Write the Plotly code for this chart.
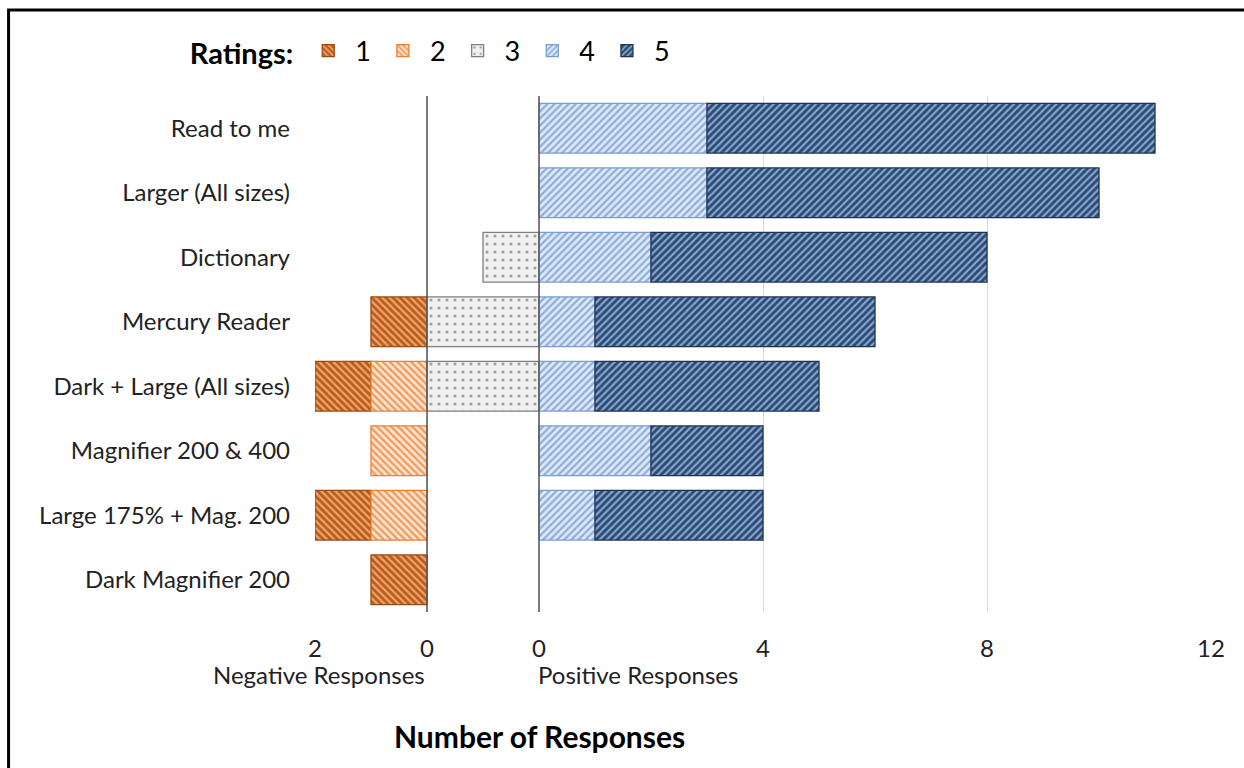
import plotly.graph_objects as go

categories = [
    "Read to me",
    "Larger (All sizes)",
    "Dictionary",
    "Mercury Reader",
    "Dark + Large (All sizes)",
    "Magnifier 200 & 400",
    "Large 175% + Mag. 200",
    "Dark Magnifier 200",
]
rating_1 = [0, 0, 0, 1, 1, 0, 1, 1]
rating_2 = [0, 0, 0, 0, 1, 1, 1, 0]
rating_3 = [0, 0, 1, 2, 2, 0, 0, 0]
rating_4 = [3, 3, 2, 1, 1, 2, 1, 0]
rating_5 = [8, 7, 6, 5, 4, 2, 3, 0]

tick_vals = [-4, -2, 0, 4, 8, 12]
tick_text = ["2", "0", "0", "4", "8", "12"]

NEG_ZERO = -2  # left edge of the neutral band; negative ratings stack from here
FONT = "Lato, Open Sans, sans-serif"


def nz(v):
    return [x if x else None for x in v]


def trace(name, widths, bases, bg, fg, shape, outline, size=5, solidity=0.45):
    return go.Bar(
        name=name,
        y=categories,
        x=nz(widths),
        base=bases,
        orientation="h",
        width=0.77,
        marker=dict(
            color=bg,
            line=dict(color=outline, width=1.3),
            pattern=dict(shape=shape, fgcolor=fg, bgcolor=bg, size=size,
                         solidity=solidity, fillmode="replace"),
        ),
    )


base_1 = [NEG_ZERO - a - b for a, b in zip(rating_1, rating_2)]
base_2 = [NEG_ZERO - b for b in rating_2]
base_3 = [-c for c in rating_3]
base_4 = [0] * len(categories)
base_5 = list(rating_4)

fig = go.Figure()
fig.add_trace(trace("1", rating_1, base_1, "#B65D1E", "#F2A468", "\\", "#9A4A12"))
fig.add_trace(trace("2", rating_2, base_2, "#FCE3D0", "#F09A58", "\\", "#ED7D31"))
fig.add_trace(trace("3", rating_3, base_3, "#F0F0F0", "#A0A0A0", ".", "#7F7F7F", size=8, solidity=0.12))
fig.add_trace(trace("4", rating_4, base_4, "#DDE9F8", "#8FADD9", "/", "#7A9CCF"))
fig.add_trace(trace("5", rating_5, base_5, "#2B4A72", "#85A5CE", "/", "#1F3350"))

# axis lines for the two zero points
for xv in (NEG_ZERO, 0):
    fig.add_shape(type="line", xref="x", yref="paper", x0=xv, x1=xv, y0=0, y1=1,
                  line=dict(color="#555555", width=1.5), layer="above")

# outer frame
fig.add_shape(type="rect", xref="paper", yref="paper",
              x0=-0.342, x1=1.2, y0=-0.5, y1=1.1665,
              line=dict(color="black", width=3), layer="above")

fig.add_annotation(text="Negative Responses", x=NEG_ZERO, y=-0.122, xref="x", yref="paper",
                   xanchor="right", showarrow=False,
                   font=dict(size=24, color="#222222"), yanchor="middle")
fig.add_annotation(text="Positive Responses", x=-0.05, y=-0.122, xref="x", yref="paper",
                   xanchor="left", showarrow=False,
                   font=dict(size=24, color="#222222"), yanchor="middle")
fig.add_annotation(text="<b>Number of Responses</b>", x=0, y=-0.24, xref="x", yref="paper",
                   showarrow=False, font=dict(size=30, color="black"), yanchor="middle")

fig.update_layout(
    width=1244,
    height=768,
    margin=dict(l=315, r=33, t=96, b=156),
    paper_bgcolor="white",
    plot_bgcolor="white",
    barmode="overlay",
    font=dict(family=FONT, size=24, color="#222222"),
    showlegend=True,
    legend=dict(
        orientation="h",
        x=-0.142, xanchor="left",
        y=1.087, yanchor="middle",
        title=dict(text="<b>Ratings:</b>", font=dict(size=29, color="black")),
        font=dict(size=27, color="black"),
        traceorder="normal",
        itemwidth=44,
    ),
    xaxis=dict(
        range=[-4, 12],
        tickvals=tick_vals,
        ticktext=tick_text,
        showgrid=True,
        gridcolor="#D9D9D9",
        gridwidth=1.3,
        zeroline=False,
        showline=False,
        ticks="",
        ticklabelstandoff=20,
        tickfont=dict(size=24, color="#222222"),
        fixedrange=True,
    ),
    yaxis=dict(
        autorange="reversed",
        showgrid=False,
        zeroline=False,
        showline=False,
        ticks="",
        ticklabelstandoff=24,
        tickfont=dict(size=24, color="#222222"),
        fixedrange=True,
    ),
)

fig.write_html("out.html")
